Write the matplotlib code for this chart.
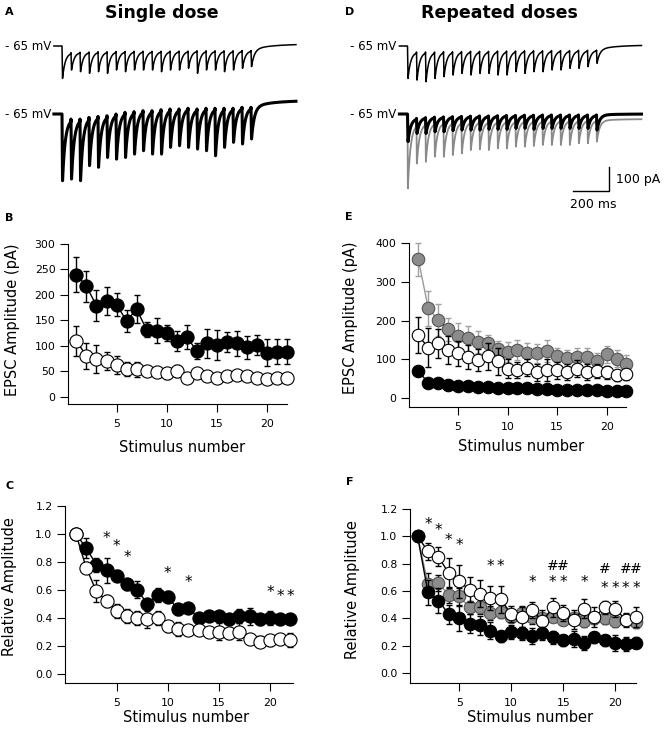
import numpy as np
import matplotlib
matplotlib.use("Agg")
import matplotlib.pyplot as plt

W, H = 666, 731
plt.rcParams['font.family'] = ['DejaVu Sans']

stim = list(range(1, 23))

# ---- panel B: EPSC amplitude, single dose (pA)
b_black = [240, 217, 179, 188, 181, 149, 172, 132, 130, 126, 110, 118, 90, 105, 102, 108, 105, 97, 102, 87, 89, 89]
b_black_err = [35, 30, 30, 27, 23, 22, 27, 15, 25, 16, 20, 24, 15, 29, 30, 20, 25, 22, 19, 26, 24, 24]
b_white = [110, 80, 74, 70, 63, 55, 54, 50, 49, 46, 51, 38, 46, 41, 38, 41, 42, 41, 38, 36, 37, 38]
b_white_err = [29, 25, 28, 18, 18, 14, 15, 10, 10, 10, 12, 8, 8, 8, 8, 7, 7, 7, 6, 6, 6, 6]

# ---- panel C: relative amplitude, single dose
c_black = [1.0, 0.90, 0.78, 0.74, 0.70, 0.64, 0.60, 0.50, 0.56, 0.55, 0.46, 0.47, 0.40, 0.41, 0.41, 0.39, 0.41, 0.41, 0.39, 0.40, 0.39, 0.39]
c_black_err = [0, 0.07, 0.05, 0.09, 0.04, 0.04, 0.06, 0.03, 0.05, 0.04, 0.04, 0.03, 0.03, 0.03, 0.04, 0.04, 0.05, 0.06, 0.04, 0.05, 0.03, 0.03]
c_white = [1.0, 0.76, 0.59, 0.52, 0.45, 0.41, 0.40, 0.39, 0.40, 0.34, 0.32, 0.31, 0.31, 0.30, 0.30, 0.29, 0.30, 0.25, 0.23, 0.24, 0.25, 0.24]
c_white_err = [0, 0.04, 0.08, 0.04, 0.05, 0.05, 0.05, 0.06, 0.05, 0.04, 0.05, 0.03, 0.03, 0.03, 0.06, 0.04, 0.06, 0.03, 0.04, 0.04, 0.03, 0.05]
c_star_x = [4, 5, 6, 10, 12, 20, 21, 22]
c_star_y = [0.97, 0.91, 0.83, 0.72, 0.65, 0.58, 0.55, 0.55]

# ---- panel E: EPSC amplitude, repeated doses (pA)
e_gray = [358, 232, 201, 177, 160, 154, 145, 141, 126, 119, 125, 117, 115, 122, 108, 104, 106, 106, 96, 113, 102, 89]
e_gray_err = [42, 45, 42, 29, 34, 32, 28, 21, 20, 26, 26, 25, 25, 29, 22, 20, 22, 22, 20, 22, 22, 22]
e_white = [162, 130, 141, 124, 115, 106, 98, 108, 95, 76, 72, 78, 67, 73, 72, 67, 76, 67, 70, 66, 59, 61]
e_white_err = [46, 50, 38, 35, 32, 30, 28, 35, 35, 25, 20, 22, 22, 28, 22, 20, 22, 20, 18, 18, 14, 14]
e_black = [69, 40, 38, 35, 32, 30, 29, 28, 27, 27, 26, 25, 24, 23, 22, 22, 21, 21, 20, 19, 18, 17]
e_black_err = [6, 4, 4, 3, 3, 3, 3, 3, 3, 3, 3, 3, 3, 3, 3, 3, 3, 3, 3, 3, 3, 3]

# ---- panel F: relative amplitude, repeated doses
f_black = [1.0, 0.59, 0.53, 0.43, 0.40, 0.36, 0.35, 0.31, 0.27, 0.30, 0.29, 0.27, 0.29, 0.26, 0.24, 0.25, 0.22, 0.26, 0.24, 0.22, 0.21, 0.22]
f_black_err = [0, 0.09, 0.09, 0.07, 0.09, 0.07, 0.07, 0.06, 0.04, 0.05, 0.05, 0.06, 0.05, 0.05, 0.04, 0.06, 0.05, 0.04, 0.04, 0.06, 0.05, 0.04]
f_gray = [1.0, 0.65, 0.66, 0.57, 0.56, 0.48, 0.48, 0.44, 0.45, 0.41, 0.44, 0.41, 0.40, 0.41, 0.39, 0.40, 0.38, 0.40, 0.40, 0.38, 0.39, 0.37]
f_gray_err = [0, 0.08, 0.06, 0.06, 0.06, 0.05, 0.05, 0.05, 0.05, 0.04, 0.05, 0.05, 0.04, 0.04, 0.04, 0.04, 0.04, 0.04, 0.04, 0.04, 0.04, 0.04]
f_white = [1.0, 0.89, 0.85, 0.73, 0.67, 0.61, 0.58, 0.55, 0.54, 0.43, 0.41, 0.46, 0.38, 0.48, 0.44, 0.39, 0.47, 0.41, 0.48, 0.47, 0.39, 0.41]
f_white_err = [0, 0.06, 0.07, 0.11, 0.12, 0.09, 0.10, 0.09, 0.10, 0.06, 0.07, 0.06, 0.08, 0.07, 0.06, 0.07, 0.07, 0.07, 0.05, 0.06, 0.05, 0.07]
f_star_x = [2, 3, 4, 5, 8, 9, 12, 14, 15, 17, 19, 20, 21, 22]
f_star_y = [1.085, 1.04, 0.97, 0.93, 0.78, 0.78, 0.665, 0.66, 0.66, 0.665, 0.62, 0.62, 0.62, 0.62]
f_hash_x = [14, 15, 19, 21, 22]
f_hash_y = [0.785, 0.785, 0.76, 0.76, 0.76]

# ---- example traces: peak (pA below baseline) and level before each next pulse
a1_peak = [135, 100, 107, 114, 107, 114, 100, 107, 100, 100, 100, 107, 100, 100, 93, 114, 100, 100, 107, 100, 93, 86]
a1_rest = [-28, -26, -25, -24, -24, -23, -23, -22, -22, -22, -22, -21, -21, -21, -20, -20, -20, -20, -20, -19, -19]
a2_peak = [278, 271, 278, 215, 222, 181, 188, 181, 167, 153, 167, 167, 139, 132, 139, 146, 153, 174, 139, 118, 125, 104]
a2_rest = [-21, -21, -14, -10, -7, 0, 7, 10, 14, 14, 18, 21, 21, 24, 21, 24, 24, 24, 24, 28, 28]
d1_peak = [135, 142, 149, 135, 128, 121, 114, 121, 114, 114, 121, 121, 107, 114, 107, 107, 100, 100, 93, 93, 86, 72]
d1_rest = [-25, -25, -25, -24, -24, -23, -22, -22, -22, -21, -21, -21, -20, -20, -20, -19, -19, -19, -18, -18, -17]
d2_black_peak = [115, 81, 81, 74, 74, 69, 67, 67, 67, 64, 64, 64, 60, 60, 64, 60, 60, 60, 60, 60, 60, 67]
d2_black_rest = [-18, -15, -13, -12, -11, -10, -9, -8, -8, -7, -6, -6, -5, -5, -4, -4, -4, -4, -4, -4, -4]
d2_gray_peak = [310, 206, 199, 178, 178, 171, 164, 150, 147, 150, 143, 143, 136, 136, 133, 129, 129, 129, 129, 122, 122, 115]
d2_gray_rest = [-42, -40, -38, -36, -35, -34, -33, -32, -32, -31, -30, -30, -29, -29, -28, -28, -27, -27, -27, -26, -26]

fig = plt.figure(figsize=(W / 100, H / 100), dpi=100)


def px_axes(x0, y0, x1, y1):
    return fig.add_axes([x0 / W, 1 - y1 / H, (x1 - x0) / W, (y1 - y0) / H])


def make_trace(peak, rest, tail_rest, tail_end, isi=50.0, t_end=1300.0, rise_ms=3.0, tau=15.0):
    t = np.arange(-45.0, t_end, 0.25)
    v = np.zeros_like(t)
    before = [0] + rest
    n = len(peak)
    for k in range(n):
        s = t - k * isi
        if k < n - 1:
            m = (s >= 0) & (s < isi)
            target = before[k + 1]
        else:
            m = s >= 0
            target = tail_end + (tail_rest - tail_end) * np.exp(-s[m] / 110.0)
        sk = s[m]
        trough = -peak[k]
        rise = before[k] + (trough - before[k]) * sk / rise_ms
        decay = target + (trough - target) * np.exp(-(sk - rise_ms) / tau)
        v[m] = np.where(sk < rise_ms, rise, decay)
    return t, v


ms_px = 200 / 36.0
pa_px = 100 / 24.0


def trace_axes(x0, x1, first_px):
    ax = px_axes(x0, 25, x1, 200)
    ax.set_xlim((x0 - first_px) * ms_px, (x1 - first_px) * ms_px)
    ax.set_ylim(-(200 - 46) * pa_px, (46 - 25) * pa_px)
    ax.axis('off')
    return ax


low = -(114 - 46) * pa_px

# A traces
axA = trace_axes(0, 333, 62)
t, v = make_trace(a1_peak, a1_rest, -15, 8)
axA.plot(t, v, color='black', lw=1.1)
t, v = make_trace(a2_peak, a2_rest, 28, 56)
axA.plot(t, v + low, color='black', lw=2.2)

# D traces
axD = trace_axes(333, 666, 407.5)
t, v = make_trace(d1_peak, d1_rest, -14, 4)
axD.plot(t, v, color='black', lw=1.1)
t, v = make_trace(d2_gray_peak, d2_gray_rest, -28, -21, rise_ms=2.0)
axD.plot(t, v + low, color='#8a8a8a', lw=1.3)
t, v = make_trace(d2_black_peak, d2_black_rest, -4, 0)
axD.plot(t, v + low, color='black', lw=2.2)

# scale bar: 200 ms / 100 pA
sx = (609 - 407.5) * ms_px
sy = -(191 - 46) * pa_px
axD.plot([sx - 200, sx, sx], [sy, sy, sy + 100], color='black', lw=1.0)
fig.text(616 / W, 1 - 179 / H, '100 pA', fontsize=9, ha='left', va='center')
fig.text(593 / W, 1 - 205 / H, '200 ms', fontsize=9, ha='center', va='center')

for xr in (51, 396):
    for yb in (46, 114):
        fig.text(xr / W, 1 - yb / H, '- 65 mV', fontsize=8.5, ha='right', va='center')

fig.text(162 / W, 1 - 13 / H, 'Single dose', fontsize=12.5, fontweight='bold', ha='center', va='center')
fig.text(499 / W, 1 - 13 / H, 'Repeated doses', fontsize=12.5, fontweight='bold', ha='center', va='center')

for lab, x, y in [('A', 5, 12), ('B', 5, 218), ('C', 5, 486), ('D', 345, 12), ('E', 345, 217), ('F', 346, 482)]:
    fig.text(x / W, 1 - y / H, lab, fontsize=8, fontweight='bold', ha='left', va='center')


def style(ax, box, xlim, ylim, yticks, ylabel, ylab_px, xlab_px):
    x0, y0, x1, y1 = box
    ax.set_xlim(*xlim)
    ax.set_ylim(*ylim)
    ax.set_xticks([5, 10, 15, 20])
    ax.set_yticks(yticks)
    ax.spines['top'].set_visible(False)
    ax.spines['right'].set_visible(False)
    for s in ('left', 'bottom'):
        ax.spines[s].set_linewidth(0.8)
    ax.tick_params(direction='out', length=6, width=0.8, labelsize=7.8, pad=3)
    ax.tick_params(axis='x', pad=5)
    ax.set_ylabel(ylabel, fontsize=10.5)
    ax.yaxis.set_label_coords((ylab_px[0] - x0) / (x1 - x0), (y1 - ylab_px[1]) / (y1 - y0))
    ax.yaxis.label.set_va('center')
    ax.set_xlabel('Stimulus number', fontsize=10.5)
    ax.xaxis.set_label_coords((xlab_px[0] - x0) / (x1 - x0), (y1 - xlab_px[1]) / (y1 - y0))
    ax.xaxis.label.set_va('center')


def series(ax, y, err, face, edge, line, ecolor, z, ms=9.5):
    ax.errorbar(stim, y, yerr=err, fmt='none', ecolor=ecolor, elinewidth=1.0,
                capsize=2.3, capthick=1.0, zorder=z, clip_on=False)
    ax.plot(stim, y, color=line, lw=1.0, zorder=z + 0.1, clip_on=False)
    ax.plot(stim, y, 'o', ms=ms, mfc=face, mec=edge, mew=0.8, zorder=z + 0.2, clip_on=False)


# B
boxB = (68, 244, 287, 404)
axB = px_axes(*boxB)
series(axB, b_white, b_white_err, 'white', 'black', 'black', 'black', 2)
series(axB, b_black, b_black_err, 'black', 'black', 'black', 'black', 3)
style(axB, boxB, (0.16, 22.0), (-14, 300), [0, 50, 100, 150, 200, 250, 300],
      'EPSC Amplitude (pA)', (13, 320), (182, 447))

# C
boxC = (65, 506, 293, 683)
axC = px_axes(*boxC)
series(axC, c_black, c_black_err, 'black', 'black', 'black', 'black', 2)
series(axC, c_white, c_white_err, 'white', 'black', 'black', 'black', 3)
style(axC, boxC, (-0.07, 22.25), (-0.066, 1.2), [0.0, 0.2, 0.4, 0.6, 0.8, 1.0, 1.2],
      'Relative Amplitude', (10, 587), (186, 717))
axC.yaxis.set_major_formatter(matplotlib.ticker.FormatStrFormatter('%.1f'))
for x, y in zip(c_star_x, c_star_y):
    axC.text(x, y, '*', fontsize=11, ha='center', va='center', zorder=6)

# E
boxE = (409, 243, 626, 407)
axE = px_axes(*boxE)
series(axE, e_gray, e_gray_err, '#8c8c8c', '#555555', '#9a9a9a', '#a0a0a0', 2, ms=9)
series(axE, e_white, e_white_err, 'white', 'black', 'black', 'black', 3, ms=9)
series(axE, e_black, e_black_err, 'black', 'black', 'black', 'black', 4, ms=9)
style(axE, boxE, (0.06, 21.95), (-23, 400), [0, 100, 200, 300, 400],
      'EPSC Amplitude (pA)', (351, 318), (521, 447))

# F
boxF = (410, 509, 636, 683)
axF = px_axes(*boxF)
series(axF, f_gray, f_gray_err, '#8c8c8c', '#555555', '#8c8c8c', 'black', 2, ms=9)
series(axF, f_white, f_white_err, 'white', 'black', 'black', 'black', 3, ms=9)
series(axF, f_black, f_black_err, 'black', 'black', 'black', 'black', 4, ms=9)
style(axF, boxF, (0.27, 22.0), (-0.073, 1.2), [0.0, 0.2, 0.4, 0.6, 0.8, 1.0, 1.2],
      'Relative Amplitude', (353, 590), (530, 717))
axF.yaxis.set_major_formatter(matplotlib.ticker.FormatStrFormatter('%.1f'))
for x, y in zip(f_star_x, f_star_y):
    axF.text(x, y, '*', fontsize=11, ha='center', va='center', zorder=6)
for x, y in zip(f_hash_x, f_hash_y):
    axF.text(x, y, '#', fontsize=10, ha='center', va='center', zorder=6)

fig.savefig('out.png', dpi=100)
